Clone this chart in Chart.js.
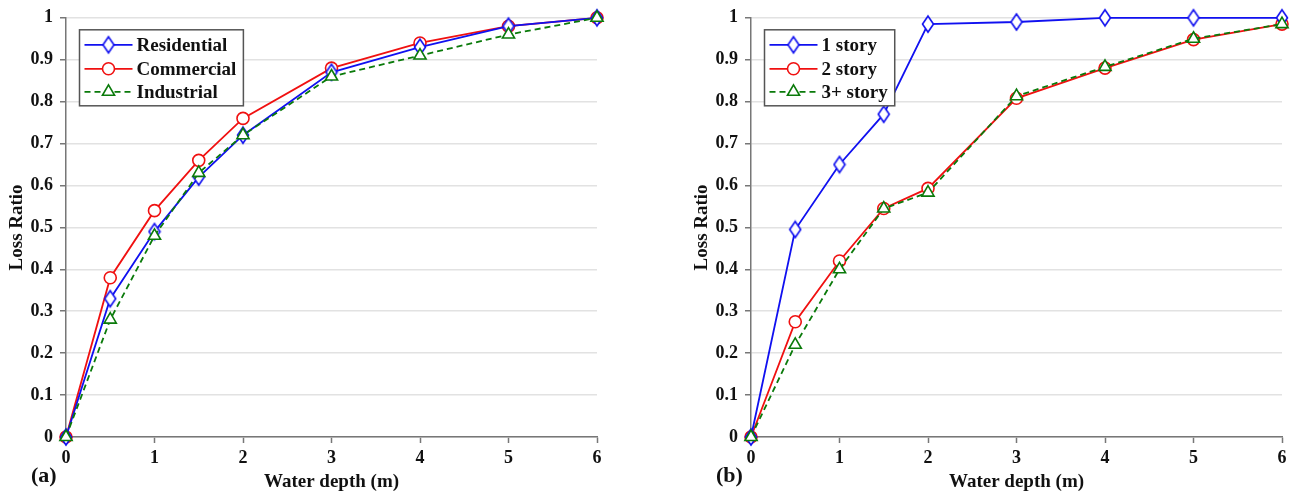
<!DOCTYPE html>
<html>
<head>
<meta charset="utf-8">
<script src="https://cdn.jsdelivr.net/npm/chart.js@4.4.1/dist/chart.umd.min.js"></script>
<style>
  body { margin: 0; background: #fff; width: 1298px; height: 495px; overflow: hidden; position: relative; }
  canvas { position: absolute; top: 0; }
  #chartA { left: 0; }
  #chartB { left: 649px; }
  .panel-tag { position: absolute; top: 462px; font: bold 22px "Liberation Serif", "Times New Roman", serif; color: #111; }
</style>
</head>
<body>
<canvas id="chartA" width="649" height="495"></canvas>
<canvas id="chartB" width="649" height="495"></canvas>
<div class="panel-tag" style="left:31px">(a)</div>
<div class="panel-tag" style="left:716px">(b)</div>
<script>
// ---- data ----
const depths = [0, 0.5, 1, 1.5, 2, 3, 4, 5, 6];

const residential = [0, 0.33, 0.49, 0.62, 0.72, 0.87, 0.93, 0.98, 1.0];
const commercial  = [0, 0.38, 0.54, 0.66, 0.76, 0.88, 0.94, 0.98, 1.0];
const industrial  = [0, 0.28, 0.48, 0.63, 0.72, 0.86, 0.91, 0.96, 1.0];

const oneStory   = [0, 0.495, 0.65, 0.77, 0.985, 0.99, 1.0, 1.0, 1.0];
const twoStory   = [0, 0.275, 0.42, 0.545, 0.593, 0.808, 0.88, 0.948, 0.985];
const threeStory = [0, 0.22, 0.40, 0.545, 0.583, 0.813, 0.883, 0.95, 0.985];

const xTickLabels = ["0", "1", "2", "3", "4", "5", "6"];
const yTickLabels = ["0", "0.1", "0.2", "0.3", "0.4", "0.5", "0.6", "0.7", "0.8", "0.9", "1"];

const SERIF = '"Liberation Serif", "Times New Roman", serif';
const BLUE = "#1010f0", RED = "#f01010", GREEN = "#0a7a0a";

// narrow diamond marker like the original
function makeDiamond(color) {
  const c = document.createElement("canvas");
  c.width = 14; c.height = 20;
  const g = c.getContext("2d");
  g.beginPath();
  g.moveTo(7, 2); g.lineTo(12.5, 10); g.lineTo(7, 18); g.lineTo(1.5, 10); g.closePath();
  g.fillStyle = "#fff"; g.fill();
  g.strokeStyle = color; g.lineWidth = 1.6; g.stroke();
  return c;
}
const diamondBlue = makeDiamond(BLUE);

function pts(values) {
  return depths.map((d, i) => ({ x: d, y: values[i] }));
}

function series(label, values, kind) {
  const base = { label, data: pts(values), borderWidth: 1.8, pointBorderWidth: 1.6,
    pointBackgroundColor: "#fff", tension: 0, fill: false, clip: false };
  if (kind === "diamond") {
    return { ...base, borderColor: BLUE, pointStyle: diamondBlue, order: 1 };
  }
  if (kind === "circle") {
    return { ...base, borderColor: RED, pointBorderColor: RED, pointStyle: "circle", pointRadius: 6, order: 2 };
  }
  return { ...base, borderColor: GREEN, pointBorderColor: GREEN, pointStyle: "triangle",
    pointRadius: 7, borderDash: [6, 4], order: 0 };
}

// legend boxed inside the plot, top-left
const boxLegend = {
  id: "boxLegend",
  afterDraw(chart) {
    const ctx = chart.ctx;
    const area = chart.chartArea;
    const sets = chart.data.datasets;
    const left = area.left + 13.5, top = area.top + 12;
    ctx.save();
    ctx.font = "bold 19px " + SERIF;
    const textW = Math.max(...sets.map((d) => ctx.measureText(d.label).width));
    const w = 57 + textW + 7, h = 76;
    ctx.fillStyle = "#fff";
    ctx.fillRect(left, top, w, h);
    ctx.strokeStyle = "#555";
    ctx.lineWidth = 1.5;
    ctx.strokeRect(left, top, w, h);
    const rows = [15, 39, 62];
    sets.forEach((d, i) => {
      const y = top + rows[i];
      ctx.beginPath();
      ctx.setLineDash(d.borderDash || []);
      ctx.strokeStyle = d.borderColor;
      ctx.lineWidth = 1.8;
      ctx.moveTo(left + 5, y); ctx.lineTo(left + 53, y);
      ctx.stroke();
      ctx.setLineDash([]);
      if (typeof d.pointStyle === "string") {
        ctx.fillStyle = "#fff";
        ctx.strokeStyle = d.borderColor;
        ctx.lineWidth = 1.6;
        Chart.helpers.drawPoint(ctx, { pointStyle: d.pointStyle, radius: d.pointRadius, borderWidth: 1.6 }, left + 29, y);
      } else {
        ctx.drawImage(d.pointStyle, left + 29 - 7, y - 10);
      }
      ctx.fillStyle = "#111";
      ctx.textBaseline = "middle";
      ctx.textAlign = "left";
      ctx.fillText(d.label, left + 57, y + 1);
    });
    ctx.restore();
  }
};

function makeChart(id, datasets, padLeft, padRight) {
  return new Chart(document.getElementById(id), {
    type: "line",
    data: { datasets },
    plugins: [boxLegend],
    options: {
      responsive: false,
      animation: false,
      events: [],
      layout: { padding: { left: padLeft, right: padRight, top: 17, bottom: 0 } },
      plugins: { legend: { display: false }, tooltip: { enabled: false } },
      scales: {
        x: {
          type: "linear", min: 0, max: 6,
          afterFit(scale) { scale.height = 58; },
          ticks: {
            stepSize: 1, padding: 5, color: "#111",
            font: { family: SERIF, size: 18, weight: "bold" },
            callback: (v, i) => xTickLabels[i]
          },
          grid: { drawOnChartArea: false, tickLength: 6, tickColor: "#777", tickWidth: 1.5 },
          border: { color: "#777", width: 1.5 },
          title: {
            display: true, text: "Water depth (m)", color: "#111",
            font: { family: SERIF, size: 19, weight: "bold" },
            padding: { top: 0, bottom: 2 }
          }
        },
        y: {
          min: 0, max: 1,
          afterFit(scale) { scale.width = 66; },
          ticks: {
            stepSize: 0.1, padding: 7, color: "#111",
            font: { family: SERIF, size: 18, weight: "bold" },
            callback: (v, i) => yTickLabels[i]
          },
          grid: { color: "#e2e2e2", lineWidth: 1.5, tickLength: 6, tickColor: "#777", tickWidth: 1.5 },
          border: { color: "#777", width: 1.5 },
          title: {
            display: true, text: "Loss Ratio", color: "#111",
            font: { family: SERIF, size: 19, weight: "bold" },
            padding: { top: 6, bottom: 0 }
          }
        }
      }
    }
  });
}

makeChart("chartA", [
  series("Residential", residential, "diamond"),
  series("Commercial", commercial, "circle"),
  series("Industrial", industrial, "triangle")
], 0, 52);

makeChart("chartB", [
  series("1 story", oneStory, "diamond"),
  series("2 story", twoStory, "circle"),
  series("3+ story", threeStory, "triangle")
], 36, 16);
</script>
</body>
</html>
